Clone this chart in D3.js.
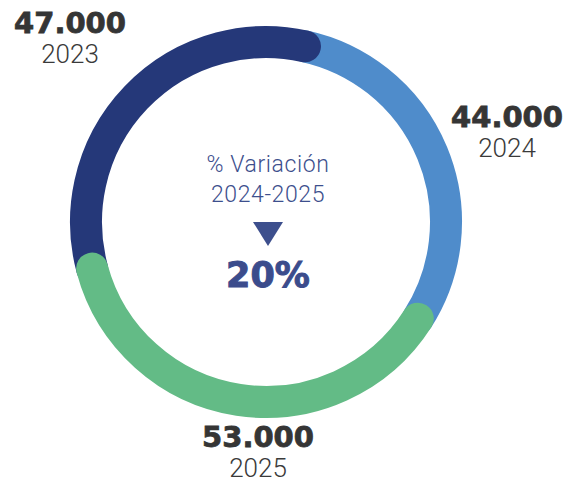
<!DOCTYPE html>
<html>
<head>
<meta charset="utf-8">
<script src="https://cdn.jsdelivr.net/npm/d3@7"></script>
<style>
  body { margin: 0; background: #fff; }
  svg { display: block; }
</style>
</head>
<body>
<div id="chart"></div>
<script>
// Data
var years = ["2023", "2024", "2025"];
var values = [47000, 44000, 53000];
var valueLabels = ["47.000", "44.000", "53.000"];
var colors = ["#253879", "#4f8ccb", "#63bb86"];
var centerTitle = ["% Variación", "2024-2025"];
var centerValue = "20%";

// SVG drawing area
var width = 567;
var height = 486;
var cx = 266, cy = 222;
var radius = 180;
var band = 32;

var svg = d3.select("#chart").append("svg")
    .attr("width", width)
    .attr("height", height);

var g = svg.append("g")
    .attr("transform", "translate(" + cx + "," + cy + ")");

// Pie layout, 2023 starts on the lower left
var start = -105 * Math.PI / 180;
var pie = d3.pie()
    .sort(null)
    .value(function(d) { return d; })
    .startAngle(start)
    .endAngle(start + 2 * Math.PI);

var arcs = pie(values);

function arcPath(d) {
    var p = d3.path();
    p.arc(0, 0, radius, d.startAngle - Math.PI / 2, d.endAngle - Math.PI / 2);
    return p.toString();
}

// draw order: 2024 under, then 2023, then 2025 on top
var drawOrder = [1, 0, 2];
drawOrder.forEach(function(i) {
    g.append("path")
        .attr("d", arcPath(arcs[i]))
        .attr("fill", "none")
        .attr("stroke", colors[i])
        .attr("stroke-width", band)
        .attr("stroke-linecap", "round");
});

// outer labels
var labelPos = [
    {x: 70, y: 33},
    {x: 507, y: 127},
    {x: 258, y: 447}
];

labelPos.forEach(function(p, i) {
    g.append("text")
        .attr("x", p.x - cx)
        .attr("y", p.y - cy)
        .attr("text-anchor", "middle")
        .style("font-family", "DejaVu Sans")
        .style("font-weight", "bold")
        .style("font-size", "29px")
        .style("fill", "#353535")
        .style("stroke", "#353535")
        .style("stroke-width", "0.8px")
        .text(valueLabels[i]);
    g.append("text")
        .attr("x", p.x - cx)
        .attr("y", p.y - cy + 30)
        .attr("text-anchor", "middle")
        .style("font-family", "Roboto")
        .style("font-weight", "300")
        .style("font-size", "26px")
        .style("fill", "#3a3a3a")
        .text(years[i]);
});

// center
var center = g.append("g").attr("transform", "translate(2,0)");
centerTitle.forEach(function(t, i) {
    center.append("text")
        .attr("y", 172 - cy + i * 30)
        .attr("text-anchor", "middle")
        .style("font-family", "Roboto")
        .style("font-weight", "300")
        .style("font-size", "23px")
        .style("letter-spacing", "0.6px")
        .style("fill", "#3d4f8d")
        .text(t);
});

center.append("path")
    .attr("d", d3.line()([[-15, 222 - cy], [15, 222 - cy], [0, 246 - cy]]) + "Z")
    .attr("fill", "#3d4f8d");

center.append("text")
    .attr("y", 287 - cy)
    .attr("text-anchor", "middle")
    .style("font-family", "DejaVu Sans")
    .style("font-weight", "bold")
    .style("font-size", "35px")
    .style("fill", "#3b4c8c")
    .style("stroke", "#3b4c8c")
    .style("stroke-width", "1px")
    .text(centerValue);
</script>
</body>
</html>
